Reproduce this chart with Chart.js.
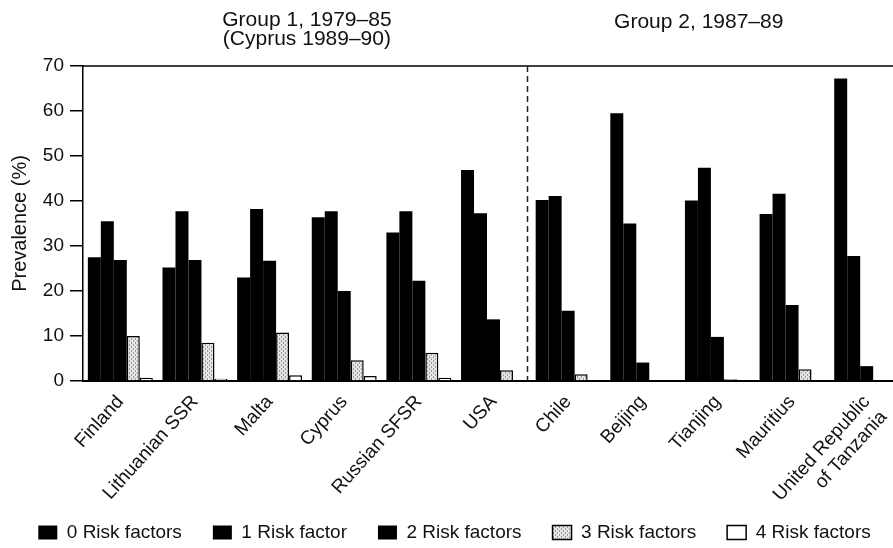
<!DOCTYPE html>
<html>
<head>
<meta charset="utf-8">
<script src="https://cdn.jsdelivr.net/npm/chart.js@4.4.1/dist/chart.umd.min.js"></script>
<style>
  html, body { margin: 0; padding: 0; background: #fff; overflow: hidden; }
  #wrap { width: 910px; height: 548px; }
</style>
</head>
<body>
<div id="wrap"><canvas id="myChart" width="910" height="548"></canvas></div>
<script>
// categories
const countries = ['Finland', 'Lithuanian SSR', 'Malta', 'Cyprus', 'Russian SFSR', 'USA',
  'Chile', 'Beijing', 'Tianjing', 'Mauritius', ['United Republic', 'of Tanzania']];

// prevalence (%) by number of risk factors
const risk0 = [27.5, 25.2, 23.0, 36.4, 33.0, 46.9, 40.2, 59.5, 40.1, 37.1, 67.2];
const risk1 = [35.5, 37.7, 38.2, 37.7, 37.7, 37.3, 41.1, 35.0, 47.4, 41.6, 27.8];
const risk2 = [26.9, 26.9, 26.7, 20.0, 22.3, 13.7, 15.6, 4.1, 9.8, 16.9, 3.3];
const risk3 = [10.0, 8.5, 10.8, 4.6, 6.3, 2.4, 1.5, 0, 0.4, 2.6, 0];
const risk4 = [0.7, 0.5, 1.3, 1.1, 0.7, 0, 0, 0, 0, 0, 0];

const seriesNames = ['0 Risk factors', '1 Risk factor', '2 Risk factors', '3 Risk factors', '4 Risk factors'];
const yTicks = [0, 10, 20, 30, 40, 50, 60, 70];

const groupTitles = [['Group 1, 1979\u201385', '(Cyprus 1989\u201390)'], ['Group 2, 1987\u201389']];

const FONT = '"Liberation Sans", Arial, Helvetica, sans-serif';

// 3 risk factors: light grey speckled fill
const makeHatch = () => {
  let c = document.createElement('canvas');
  c.width = 4;
  c.height = 4;
  let g = c.getContext('2d');
  g.fillStyle = '#e4e4e4';
  g.fillRect(0, 0, 4, 4);
  g.fillStyle = '#9c9c9c';
  g.fillRect(1, 0, 1, 2);
  g.fillRect(3, 2, 1, 2);
  return g.createPattern(c, 'repeat');
}

// top frame line, dashed group divider, group headings
const decorations = {
  id: 'decorations',
  afterLayout(chart) {
    // rotated country names run below the axis box, don't clip them
    chart.scales.x._computeLabelArea = () => undefined;
  },
  afterDraw(chart) {
    const {ctx, chartArea, scales: {x}} = chart;
    ctx.save();
    ctx.strokeStyle = '#000';
    ctx.lineWidth = 1.5;
    ctx.beginPath();
    ctx.moveTo(chartArea.left, chartArea.top);
    ctx.lineTo(chartArea.right, chartArea.top);
    ctx.stroke();

    let xd = Math.round(x.getPixelForValue(5.45)) + 0.5;
    ctx.setLineDash([6, 4]);
    ctx.lineWidth = 1.5;
    ctx.strokeStyle = '#222';
    ctx.beginPath();
    ctx.moveTo(xd, chartArea.top);
    ctx.lineTo(xd, chartArea.bottom);
    ctx.stroke();
    ctx.setLineDash([]);

    ctx.font = '21px ' + FONT;
    ctx.fillStyle = '#111';
    ctx.textAlign = 'center';
    ctx.textBaseline = 'middle';
    let centers = [2.5, 7.75];
    groupTitles.forEach((lines, i) => {
      let cx = x.getPixelForValue(centers[i]);
      if (lines.length > 1) {
        ctx.fillText(lines[0], cx, 20);
        ctx.fillText(lines[1], cx, 39);
      } else {
        ctx.fillText(lines[0], cx, 22);
      }
    });
    ctx.restore();
  }
};

let ctx = document.querySelector('#myChart');
let hatch = makeHatch();

const data = {
  labels: countries,
  datasets: [
    { label: seriesNames[0], data: risk0, backgroundColor: '#000', borderWidth: 0 },
    { label: seriesNames[1], data: risk1, backgroundColor: '#000', borderWidth: 0 },
    { label: seriesNames[2], data: risk2, backgroundColor: '#000', borderWidth: 0 },
    { label: seriesNames[3], data: risk3, backgroundColor: hatch, borderColor: '#000', borderWidth: 1.5 },
    { label: seriesNames[4], data: risk4, backgroundColor: '#fff', borderColor: '#000', borderWidth: 1.5 }
  ]
};

let charter = new Chart(ctx, {
  type: 'bar',
  data: data,
  plugins: [decorations],
  options: {
    responsive: false,
    animation: false,
    devicePixelRatio: 1,
    categoryPercentage: 0.87,
    barPercentage: 1.0,
    layout: { padding: { top: 66, left: 5, right: 6, bottom: -4 } },
    plugins: {
      tooltip: { enabled: false },
      legend: {
        position: 'bottom',
        labels: {
          color: '#111',
          font: { family: FONT, size: 19 },
          boxWidth: 19,
          boxHeight: 14,
          padding: 31
        }
      }
    },
    scales: {
      x: {
        grid: { display: false },
        border: { color: '#000', width: 2 },
        ticks: {
          color: '#111',
          font: { family: FONT, size: 19 },
          autoSkip: false,
          maxRotation: 48,
          minRotation: 48,
          padding: 2
        },
        afterFit: (scale) => { scale.height = 111; }
      },
      y: {
        min: 0,
        max: 70,
        afterBuildTicks: (scale) => { scale.ticks = yTicks.map(v => ({ value: v })); },
        grid: { drawOnChartArea: false, drawTicks: true, tickLength: 13, color: '#000', lineWidth: 1.5 },
        border: { color: '#000', width: 1.5 },
        ticks: {
          color: '#111',
          font: { family: FONT, size: 19 },
          padding: 6
        },
        title: {
          display: true,
          text: 'Prevalence (%)',
          color: '#111',
          font: { family: FONT, size: 20 },
          padding: { top: 3, bottom: 12 }
        },
        afterFit: (scale) => { scale.width = 78; }
      }
    }
  }
});
</script>
</body>
</html>
